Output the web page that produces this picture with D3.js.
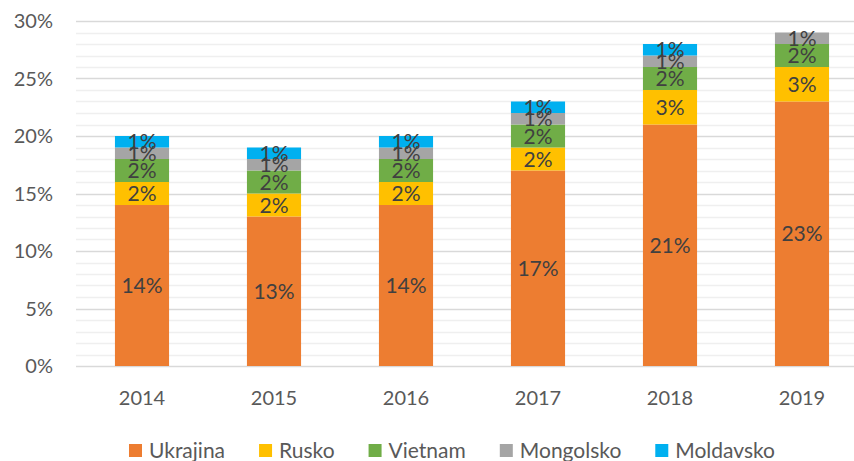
<!DOCTYPE html>
<html>
<head>
<meta charset="utf-8">
<script src="https://cdn.jsdelivr.net/npm/d3@7/dist/d3.min.js"></script>
<style>
  body { margin: 0; background: #fff; }
  text { font-family: Lato, "Open Sans", sans-serif; }
</style>
</head>
<body>
<div id="chart"></div>
<script>
var years = ["2014", "2015", "2016", "2017", "2018", "2019"];
var seriesNames = ["Ukrajina", "Rusko", "Vietnam", "Mongolsko", "Moldavsko"];
var ukrajina  = [14, 13, 14, 17, 21, 23];
var rusko     = [2, 2, 2, 2, 3, 3];
var vietnam   = [2, 2, 2, 2, 2, 2];
var mongolsko = [1, 1, 1, 1, 1, 1];
var moldavsko = [1, 1, 1, 1, 1, 0];
var yTicks = [0, 5, 10, 15, 20, 25, 30];
var colors = ["#ED7D31", "#FFC000", "#70AD47", "#A5A5A5", "#00B0F0"];

var width = 854, height = 461;
var rows = years.map(function (y, i) {
    return { year: y, Ukrajina: ukrajina[i], Rusko: rusko[i], Vietnam: vietnam[i],
             Mongolsko: mongolsko[i], Moldavsko: moldavsko[i] };
});

var svg = d3.select("#chart").append("svg")
    .attr("width", width)
    .attr("height", height);

var x = d3.scaleBand()
    .domain(years)
    .range([76, 868])
    .paddingInner(0.59)
    .paddingOuter(0.295);
var y = d3.scaleLinear()
    .domain([0, 30])
    .range([366, 21]);

// minor gridlines every 1%
svg.append("g").selectAll("line")
    .data(d3.range(0, 31).filter(function (v) { return v % 5 !== 0; }))
    .enter().append("line")
    .attr("x1", 76).attr("x2", width)
    .attr("y1", function (d) { return Math.round(y(d)) + 0.5; })
    .attr("y2", function (d) { return Math.round(y(d)) + 0.5; })
    .style("stroke", "#efefef")
    .style("stroke-width", 1.5);

// major gridlines
svg.append("g").selectAll("line")
    .data(yTicks)
    .enter().append("line")
    .attr("x1", 76).attr("x2", width)
    .attr("y1", function (d) { return Math.round(y(d)) + 0.5; })
    .attr("y2", function (d) { return Math.round(y(d)) + 0.5; })
    .style("stroke", "#d9d9d9")
    .style("stroke-width", 1.5);

// y tick labels
svg.append("g").selectAll("text")
    .data(yTicks)
    .enter().append("text")
    .attr("x", 53)
    .attr("y", function (d) { return y(d); })
    .attr("dy", "0.35em")
    .style("text-anchor", "end")
    .style("font-size", "20px")
    .style("fill", "#595959")
    .text(function (d) { return d + "%"; });

// x labels
svg.append("g").selectAll("text")
    .data(years)
    .enter().append("text")
    .attr("x", function (d) { return x(d) + x.bandwidth() / 2; })
    .attr("y", 405)
    .style("text-anchor", "middle")
    .style("font-size", "20px")
    .style("fill", "#595959")
    .text(function (d) { return d; });

var stack = d3.stack().keys(seriesNames);
var layers = stack(rows);

var g = svg.selectAll(".layer")
    .data(layers)
    .enter().append("g")
    .attr("class", "layer")
    .style("fill", function (d, i) { return colors[i]; });

g.selectAll("rect")
    .data(function (d) { return d.filter(function (p) { return p[1] > p[0]; }); })
    .enter().append("rect")
    .attr("x", function (d) { return x(d.data.year); })
    .attr("width", x.bandwidth())
    .attr("y", function (d) { return y(d[1]); })
    .attr("height", function (d) { return y(d[0]) - y(d[1]); });

// data labels
var lab = svg.selectAll(".labels")
    .data(layers)
    .enter().append("g")
    .attr("class", "labels");

lab.selectAll("text")
    .data(function (d) { return d.filter(function (p) { return p[1] > p[0]; }); })
    .enter().append("text")
    .attr("x", function (d) { return x(d.data.year) + x.bandwidth() / 2; })
    .attr("y", function (d) { return y((d[0] + d[1]) / 2); })
    .attr("dy", "0.36em")
    .style("text-anchor", "middle")
    .style("font-size", "21px")
    .style("fill", "#404040")
    .text(function (d) { return (d[1] - d[0]) + "%"; });

// legend
var legend = svg.append("g");
var items = legend.selectAll("g")
    .data(seriesNames)
    .enter().append("g");
items.append("rect")
    .attr("width", 13).attr("height", 13)
    .attr("y", 444)
    .style("fill", function (d, i) { return colors[i]; });
items.append("text")
    .attr("x", 20)
    .attr("y", 458)
    .style("font-size", "21px")
    .style("fill", "#595959")
    .text(function (d) { return d; });

var pos = 0;
var offsets = [];
items.each(function () {
    offsets.push(pos);
    pos += 20 + this.querySelector("text").getComputedTextLength() + 34;
});
var total = pos - 34;
var start = 452 - total / 2;
items.attr("transform", function (d, i) { return "translate(" + (start + offsets[i]) + ",0)"; });
</script>
</body>
</html>
